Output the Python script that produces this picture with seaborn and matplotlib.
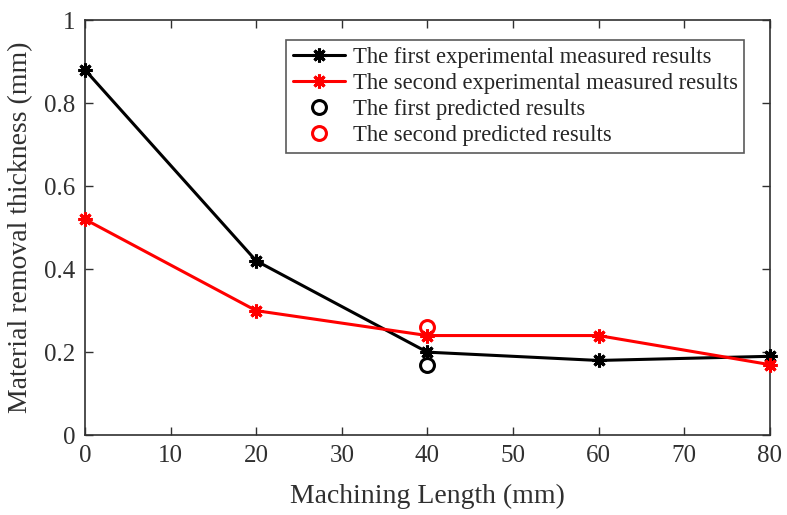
import pandas as pd
import matplotlib
matplotlib.use("Agg")
import matplotlib.pyplot as plt
import seaborn as sns

# ----------------------------------------------------
# data
# ----------------------------------------------------
length_mm = [0, 20, 40, 60, 80]
first_measured = [0.88, 0.42, 0.20, 0.18, 0.19]
second_measured = [0.52, 0.30, 0.24, 0.24, 0.17]
pred_x = [40]
first_predicted = [0.17]
second_predicted = [0.26]

sns.set_theme(style="ticks")
plt.rcParams['font.family'] = ['Liberation Serif', 'DejaVu Serif']

fig = plt.figure(figsize=(7.87, 5.15), dpi=100)
ax = fig.add_axes([0.108, 0.155, 0.87, 0.806])

star = (8, 2, 0)
df1 = pd.DataFrame({'x': length_mm, 'y': first_measured})
df2 = pd.DataFrame({'x': length_mm, 'y': second_measured})

sns.lineplot(data=df1, x='x', y='y', ax=ax, color='black', lw=2.2,
             marker=star, markersize=10, markeredgewidth=2.2, markeredgecolor='black',
             label='The first experimental measured results', clip_on=False, zorder=3)
sns.lineplot(data=df2, x='x', y='y', ax=ax, color='red', lw=2.2,
             marker=star, markersize=10, markeredgewidth=2.2, markeredgecolor='red',
             label='The second experimental measured results', clip_on=False, zorder=3)
ax.plot(pred_x, first_predicted, 'o', mfc='none', mec='black', mew=2.2, ms=10,
        label='The first predicted results', zorder=4)
ax.plot(pred_x, second_predicted, 'o', mfc='none', mec='red', mew=2.2, ms=10,
        label='The second predicted results', zorder=4)

ax.set_xlim(0, 80)
ax.set_ylim(0, 1)
ax.set_xticks(range(0, 81, 10))
ax.set_yticks([0, 0.2, 0.4, 0.6, 0.8, 1])
ax.set_yticklabels(['0', '0.2', '0.4', '0.6', '0.8', '1'])
ax.set_xlabel('Machining Length (mm)', fontsize=20, color='#303030', labelpad=12)
ax.set_ylabel('Material removal thickness (mm)', fontsize=20, color='#303030', labelpad=8)
ax.tick_params(direction='in', top=True, right=True, labelsize=18, length=6,
               width=1, colors='#303030', pad=7)
for s in ax.spines.values():
    s.set_linewidth(1.2)
    s.set_color('#303030')

leg = ax.legend(loc='upper right', bbox_to_anchor=(0.963, 0.952), fontsize=16.3,
                frameon=True, fancybox=False, edgecolor='#303030',
                handlelength=2.3, borderpad=0.3, labelspacing=0.22,
                handletextpad=0.35, borderaxespad=0)
leg.get_frame().set_linewidth(1.2)
for t in leg.get_texts():
    t.set_color('#262626')

fig.savefig('out.png', dpi=100)
